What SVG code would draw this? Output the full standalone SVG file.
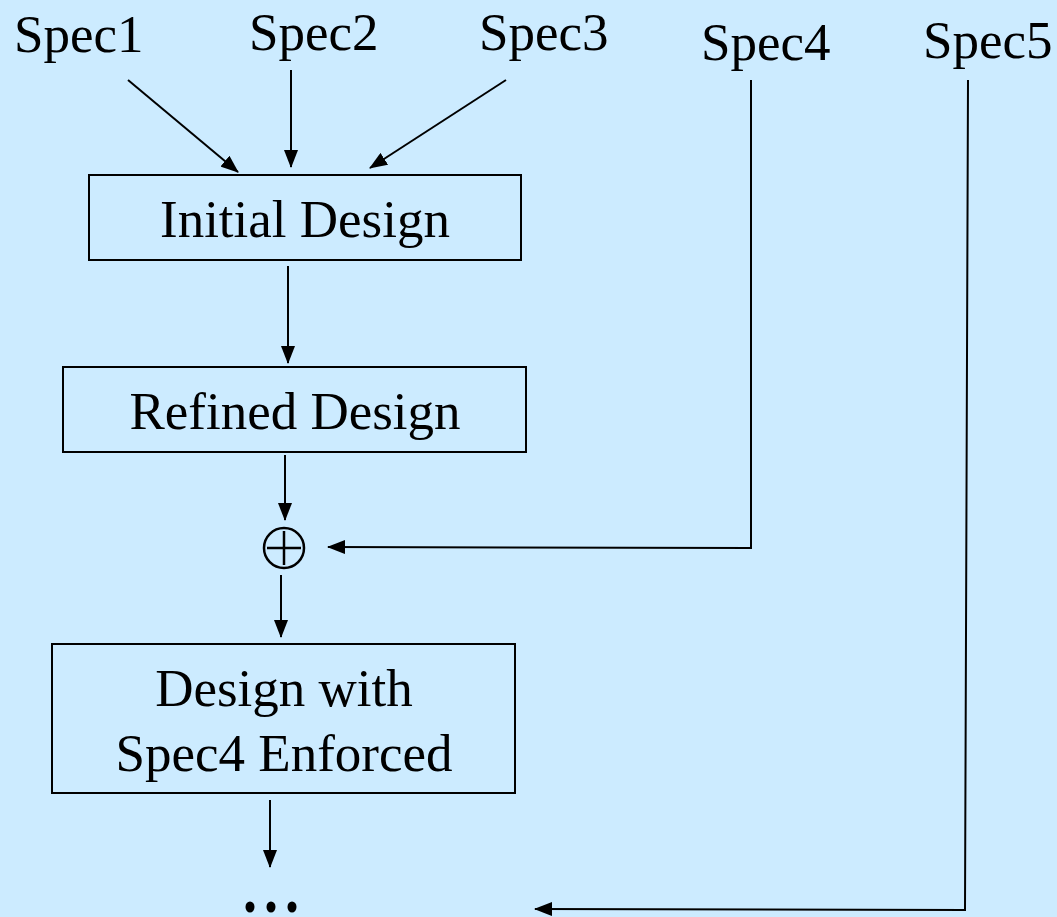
<svg xmlns="http://www.w3.org/2000/svg" width="1057" height="917" viewBox="0 0 1057 917">
  <defs>
    <marker id="arrow" markerWidth="18" markerHeight="14" refX="17" refY="7" orient="auto" markerUnits="userSpaceOnUse">
      <path d="M0,0 L18,7 L0,14 Z" fill="#000"/>
    </marker>
    <style>
      .lbl { font-family: "Liberation Serif", "Times New Roman", serif; font-size: 53px; fill: #000; }
      .box { fill: none; stroke: #000; stroke-width: 2; }
      .edge { fill: none; stroke: #000; stroke-width: 2; }
      .arr { marker-end: url(#arrow); }
    </style>
  </defs>
  <rect width="1057" height="917" fill="#CCEBFF"/>

  <g id="spec1"><text class="lbl" x="14" y="52">Spec1</text></g>
  <g id="spec2"><text class="lbl" x="249" y="50">Spec2</text></g>
  <g id="spec3"><text class="lbl" x="479" y="50">Spec3</text></g>
  <g id="spec4"><text class="lbl" x="701" y="60">Spec4</text></g>
  <g id="spec5"><text class="lbl" x="923" y="58">Spec5</text></g>

  <g id="initial-design">
    <rect class="box" x="89" y="175" width="432" height="85"/>
    <text class="lbl" x="305" y="237" text-anchor="middle">Initial Design</text>
  </g>
  <g id="refined-design">
    <rect class="box" x="63" y="367" width="463" height="85"/>
    <text class="lbl" x="295" y="429" text-anchor="middle">Refined Design</text>
  </g>
  <g id="combine">
    <circle cx="284" cy="548" r="20" fill="none" stroke="#000" stroke-width="2.5"/>
    <line x1="267" y1="548" x2="301" y2="548" stroke="#000" stroke-width="2.5"/>
    <line x1="284" y1="531" x2="284" y2="565" stroke="#000" stroke-width="2.5"/>
  </g>
  <g id="enforced-design">
    <rect class="box" x="52" y="644" width="463" height="149"/>
    <text class="lbl" x="284" y="706" text-anchor="middle">Design with</text>
    <text class="lbl" x="284" y="771" text-anchor="middle">Spec4 Enforced</text>
  </g>
  <g id="continuation">
    <ellipse cx="250" cy="907" rx="4.5" ry="5.5" fill="#000"/>
    <ellipse cx="271" cy="907" rx="4.5" ry="5.5" fill="#000"/>
    <ellipse cx="292" cy="907" rx="4.5" ry="5.5" fill="#000"/>
  </g>

  <g id="connectors">
    <line class="edge arr" x1="128" y1="80" x2="238" y2="172"/>
    <line class="edge arr" x1="291" y1="70" x2="291" y2="167"/>
    <line class="edge arr" x1="506" y1="80" x2="370" y2="168"/>
    <line class="edge arr" x1="288" y1="266" x2="288" y2="363"/>
    <line class="edge arr" x1="285" y1="455" x2="285" y2="520"/>
    <line class="edge arr" x1="281" y1="575" x2="281" y2="637"/>
    <line class="edge arr" x1="270" y1="800" x2="270" y2="867"/>
    <polyline class="edge arr" points="751,80 751,548 328,547"/>
    <polyline class="edge arr" points="968,80 965,910 535,909"/>
  </g>
</svg>
